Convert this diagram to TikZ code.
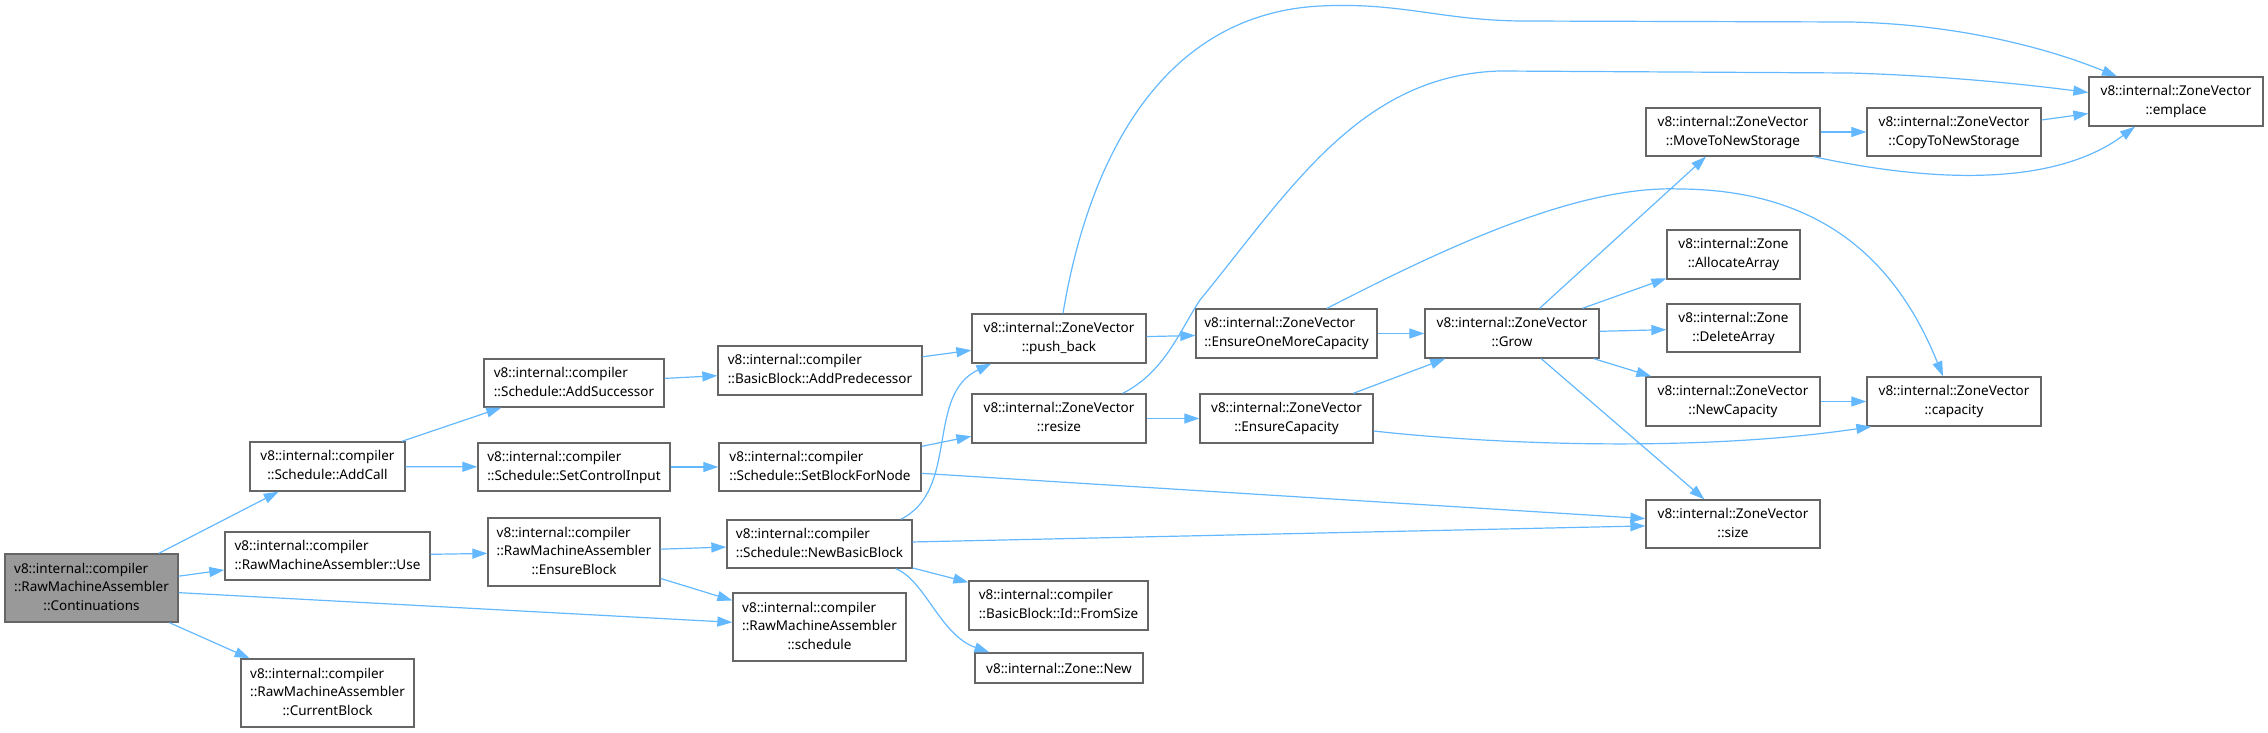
\documentclass[tikz,border=0pt]{standalone}
\usepackage{fontspec}
\setmainfont{Noto Sans}
\usetikzlibrary{arrows.meta}
\definecolor{edgec}{HTML}{63B8FF}
\definecolor{bordc}{HTML}{666666}
\definecolor{rootc}{HTML}{999999}
\newcommand{\tl}[2]{\begin{tabular}{@{}l@{}}#1\\\multicolumn{1}{@{}c@{}}{#2}\end{tabular}}
\begin{document}
\begin{tikzpicture}[x=1pt,y=-1pt,
  box/.style={draw=bordc, line width=1.3pt, fill=white, rectangle, inner sep=0pt, text=black,
    font=\fontsize{13.5}{18.7}\selectfont},
  e/.style={draw=edgec, line width=1.2pt, -{Triangle[length=15pt,width=10pt]}}]
\useasboundingbox (0,0) rectangle (2268,733);
% nodes
\node[box, fill=rootc, minimum width=173pt, minimum height=68pt] (cont) at (91.5,588) {\tl{v8::internal::compiler\\::RawMachineAssembler}{::Continuations}};
\node[box, minimum width=155pt, minimum height=49pt] (addcall) at (327.5,466.5) {\tl{v8::internal::compiler}{::Schedule::AddCall}};
\node[box, minimum width=205pt, minimum height=48pt] (use) at (327.5,556) {\tl{v8::internal::compiler}{::RawMachineAssembler::Use}};
\node[box, minimum width=173pt, minimum height=68pt] (curblock) at (327.5,693) {\tl{v8::internal::compiler\\::RawMachineAssembler}{::CurrentBlock}};
\node[box, minimum width=180pt, minimum height=48pt] (addsucc) at (574,383) {\tl{v8::internal::compiler}{::Schedule::AddSuccessor}};
\node[box, minimum width=192pt, minimum height=48pt] (setctrl) at (574,467) {\tl{v8::internal::compiler}{::Schedule::SetControlInput}};
\node[box, minimum width=172pt, minimum height=68pt] (ensblk) at (574,552) {\tl{v8::internal::compiler\\::RawMachineAssembler}{::EnsureBlock}};
\node[box, minimum width=204pt, minimum height=49pt] (addpred) at (820,370.5) {\tl{v8::internal::compiler}{::BasicBlock::AddPredecessor}};
\node[box, minimum width=202pt, minimum height=48pt] (setbfn) at (820,467) {\tl{v8::internal::compiler}{::Schedule::SetBlockForNode}};
\node[box, minimum width=185pt, minimum height=48pt] (nbb) at (819.5,544) {\tl{v8::internal::compiler}{::Schedule::NewBasicBlock}};
\node[box, minimum width=173pt, minimum height=68pt] (sched) at (819.5,627) {\tl{v8::internal::compiler\\::RawMachineAssembler}{::schedule}};
\node[box, minimum width=174pt, minimum height=49pt] (pb) at (1059,338.5) {\tl{v8::internal::ZoneVector}{::push\_back}};
\node[box, minimum width=174pt, minimum height=49pt] (resize) at (1059,418.5) {\tl{v8::internal::ZoneVector}{::resize}};
\node[box, minimum width=179pt, minimum height=49pt] (fromsize) at (1058.5,605.5) {\tl{v8::internal::compiler}{::BasicBlock::Id::FromSize}};
\node[box, minimum width=168pt, minimum height=30pt] (znew) at (1059,668) {v8::internal::Zone::New};
\node[box, minimum width=181pt, minimum height=49pt] (eomc) at (1286.5,333.5) {\tl{v8::internal::ZoneVector}{::EnsureOneMoreCapacity}};
\node[box, minimum width=173pt, minimum height=49pt] (ecap) at (1286.5,418.5) {\tl{v8::internal::ZoneVector}{::EnsureCapacity}};
\node[box, minimum width=174pt, minimum height=49pt] (grow) at (1512,333.5) {\tl{v8::internal::ZoneVector}{::Grow}};
\node[box, minimum width=174pt, minimum height=48pt] (mtns) at (1733,132) {\tl{v8::internal::ZoneVector}{::MoveToNewStorage}};
\node[box, minimum width=133pt, minimum height=49pt] (alloc) at (1733.5,254.5) {\tl{v8::internal::Zone}{::AllocateArray}};
\node[box, minimum width=133pt, minimum height=48pt] (delarr) at (1733.5,328) {\tl{v8::internal::Zone}{::DeleteArray}};
\node[box, minimum width=174pt, minimum height=49pt] (newcap) at (1733,401.5) {\tl{v8::internal::ZoneVector}{::NewCapacity}};
\node[box, minimum width=174pt, minimum height=48pt] (size) at (1733,524) {\tl{v8::internal::ZoneVector}{::size}};
\node[box, minimum width=174pt, minimum height=48pt] (ctns) at (1954,132) {\tl{v8::internal::ZoneVector}{::CopyToNewStorage}};
\node[box, minimum width=174pt, minimum height=49pt] (cap) at (1954,401.5) {\tl{v8::internal::ZoneVector}{::capacity}};
\node[box, minimum width=174pt, minimum height=49pt] (emplace) at (2176,101.5) {\tl{v8::internal::ZoneVector}{::emplace}};
% straight edges
\draw[e] (cont) -- (addcall);
\draw[e] (cont) -- (use);
\draw[e] (cont) -- (sched);
\draw[e] (cont) -- (curblock);
\draw[e] (addcall) -- (addsucc);
\draw[e] (addcall) -- (setctrl);
\draw[e] (use) -- (ensblk);
\draw[e] (addsucc) -- (addpred);
\draw[e] (addpred) -- (pb);
\draw[e] (setctrl) -- (setbfn);
\draw[e] (setbfn) -- (resize);
\draw[e] (setbfn) -- (size);
\draw[e] (ensblk) -- (nbb);
\draw[e] (ensblk) -- (sched);
\draw[e] (nbb) -- (size);
\draw[e] (nbb) -- (fromsize);
\draw[e] (pb) -- (eomc);
\draw[e] (resize) -- (ecap);
\draw[e] (eomc) -- (grow);
\draw[e] (ecap) -- (grow);
\draw[e] (grow) -- (mtns);
\draw[e] (grow) -- (alloc);
\draw[e] (grow) -- (delarr);
\draw[e] (grow) -- (newcap);
\draw[e] (grow) -- (size);
\draw[e] (mtns) -- (ctns);
\draw[e] (ctns) -- (emplace);
\draw[e] (newcap) -- (cap);
% curved edges
\draw[e] ([xshift=-12pt]nbb.north east) .. controls (960,490) and (925,395) .. ([xshift=20pt]pb.south west);
\draw[e] ([xshift=-17pt]nbb.south east) .. controls (925,580) and (940,635) .. ([xshift=15pt]znew.north west);
\draw[e] ([xshift=4pt]pb.north) .. controls (1085,180) and (1150,15) .. (1320,6)
   .. controls (1400,2) and (1440,20) .. (1520,21) -- (1850,22)
   .. controls (1950,24) and (2040,45) .. ([xshift=-59pt]emplace.north);
\draw[e] ([xshift=-24pt]resize.north east) .. controls (1165,372) and (1180,330) .. (1200,300)
   .. controls (1290,190) and (1360,75) .. (1500,71) -- (1850,73)
   .. controls (1950,76) and (2030,85) .. ([yshift=9pt]emplace.west);
\draw[e] ([xshift=40.5pt]eomc.north) .. controls (1450,245) and (1580,185) .. (1680,189)
   .. controls (1830,190) and (1900,270) .. ([xshift=-11pt]cap.north);
\draw[e] ([yshift=-12.5pt]ecap.east) .. controls (1500,445) and (1700,452) .. ([xshift=5pt]cap.south west);
\draw[e] ([xshift=-7pt]mtns.south east) .. controls (1920,180) and (2050,190) .. ([xshift=-41pt]emplace.south);
\end{tikzpicture}
\end{document}
